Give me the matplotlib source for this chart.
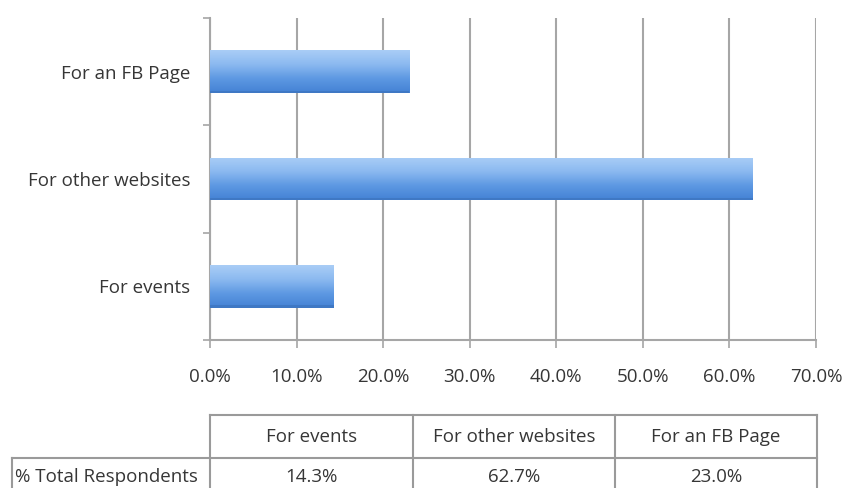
import numpy as np
import matplotlib.pyplot as plt
from matplotlib.patches import Rectangle

plt.rcParams['font.family'] = ['Open Sans', 'DejaVu Sans']

categories = ['For events', 'For other websites', 'For an FB Page']
shares = [14.3, 62.7, 23.0]
row_label = '% Total Respondents'
x_ticks = [0, 10, 20, 30, 40, 50, 60, 70]

text_color = '#363636'
grid_color = '#a6a6a6'
fs = 13.5

fig = plt.figure(figsize=(8.46, 4.88), dpi=100)
W, H = 846, 488

def px_box(x0, y0, x1, y1):
    # pixel box (top-left origin) -> figure fraction rect
    return [x0 / W, 1 - y1 / H, (x1 - x0) / W, (y1 - y0) / H]

ax = fig.add_axes(px_box(210, 18, 816, 340))
ax.set_xlim(0, 70)
ax.set_ylim(-0.5, len(categories) - 0.5)

# bars with a vertical blue gradient
grad = np.linspace(0, 1, 64).reshape(-1, 1)
cmap = plt.matplotlib.colors.LinearSegmentedColormap.from_list(
    'bar', ['#4482d4', '#5d98e2', '#8bb9f0', '#a9cdf6'])
bars = ax.barh(range(len(categories)), shares, height=0.4, color='none',
               edgecolor='none', zorder=3)
for bar in bars:
    x, y = bar.get_x(), bar.get_y()
    w, h = bar.get_width(), bar.get_height()
    im = ax.imshow(grad, cmap=cmap, aspect='auto', origin='lower',
                   extent=[x, x + w, y, y + h], zorder=3)
    im.set_clip_path(bar)
    ax.add_patch(Rectangle((x, y), w, h * 0.06, color='#3f78c4', lw=0, zorder=4))

# grid, spines and ticks
ax.set_xticks(x_ticks)
ax.set_xticklabels([f'{v:.1f}%' for v in x_ticks])
ax.grid(axis='x', color=grid_color, lw=1.5, zorder=1)
ax.set_yticks(np.arange(-0.5, len(categories), 1.0))
ax.set_yticklabels([])
ax.set_yticks(range(len(categories)), minor=True)
ax.set_yticklabels(categories, minor=True)
ax.tick_params(axis='y', which='minor', length=0, pad=14, labelsize=fs,
               labelcolor=text_color)
ax.tick_params(axis='y', which='major', length=5, width=1.2, color=grid_color)
ax.tick_params(axis='x', length=6, width=1.2, color=grid_color, pad=14,
               labelsize=fs, labelcolor=text_color)
for side in ['top', 'right']:
    ax.spines[side].set_visible(False)
for side in ['left', 'bottom']:
    ax.spines[side].set_color(grid_color)
    ax.spines[side].set_linewidth(1.5)
ax.set_axisbelow(True)

# data table under the chart
tab = fig.add_axes([0, 0, 1, 1])
tab.set_xlim(0, W)
tab.set_ylim(H, 0)
tab.axis('off')
col_edges = [210, 413, 615, 817]
head_top, head_bot, row_bot = 415, 458, 505
lc = '#9a9a9a'
tab.plot([col_edges[0], col_edges[-1]], [head_top, head_top], color=lc, lw=1.5)
tab.plot([12, col_edges[-1]], [head_bot, head_bot], color=lc, lw=1.5)
tab.plot([12, 12], [head_bot, row_bot], color=lc, lw=1.5)
for xe in col_edges:
    tab.plot([xe, xe], [head_top, row_bot], color=lc, lw=1.5)
for i, (cat, val) in enumerate(zip(categories, shares)):
    xc = (col_edges[i] + col_edges[i + 1]) / 2
    tab.text(xc, (head_top + head_bot) / 2, cat, ha='center', va='center',
             fontsize=fs, color=text_color)
    tab.text(xc, 477, f'{val:.1f}%', ha='center', va='center',
             fontsize=fs, color=text_color)
tab.text(15, 477, row_label, ha='left', va='center', fontsize=fs,
         color=text_color)

fig.savefig('out.png', dpi=100)
